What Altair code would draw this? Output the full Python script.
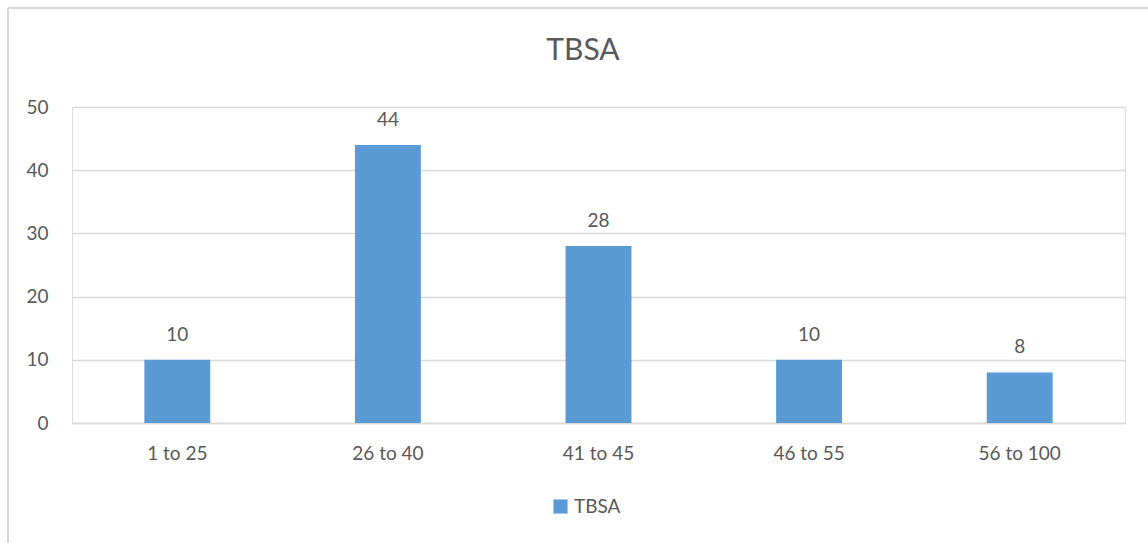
import altair as alt
import pandas as pd

categories = ["1 to 25", "26 to 40", "41 to 45", "46 to 55", "56 to 100"]
values = [10, 44, 28, 10, 8]
series = "TBSA"
title_text = "TBSA"

df = pd.DataFrame({"cat": categories, "val": values, "series": [series] * len(categories)})

FONT = "Lato"
GRAY = "#595959"
GRID = "#d9d9d9"
BLUE = "#5b9bd5"
FS = 19

x_enc = alt.X("cat:N", sort=categories, title=None,
              scale=alt.Scale(paddingInner=0, paddingOuter=0),
              axis=alt.Axis(labelAngle=0, labelFontSize=FS, labelColor=GRAY, labelFont=FONT,
                            domainColor=GRID, domainWidth=1.5, ticks=False, labelPadding=21))
y_enc = alt.Y("val:Q", title=None,
              scale=alt.Scale(domain=[0, 50]),
              axis=alt.Axis(values=[0, 10, 20, 30, 40, 50], labelFontSize=FS, labelColor=GRAY,
                            labelFont=FONT, domain=False, ticks=False, labelPadding=24,
                            gridColor=GRID, gridWidth=1.5))

bars = alt.Chart(df).mark_bar(color=BLUE, width=alt.RelativeBandSize(0.313)).encode(
    x=x_enc, y=y_enc,
    color=alt.Color("series:N", scale=alt.Scale(range=[BLUE]),
                    legend=alt.Legend(title=None, orient="none", legendX=479, legendY=390,
                                      symbolType="square", symbolSize=200, symbolStrokeWidth=0,
                                      labelFontSize=FS, labelColor=GRAY, labelFont=FONT,
                                      labelOffset=4)),
)

labels = alt.Chart(df).mark_text(fontSize=FS, color=GRAY, font=FONT, baseline="alphabetic", dy=-19).encode(
    x=alt.X("cat:N", sort=categories), y="val:Q", text="val:Q"
)

title_df = pd.DataFrame({"t": [title_text]})
title = alt.Chart(title_df).mark_text(fontSize=30, color=GRAY, font=FONT, baseline="middle", align="center").encode(
    x=alt.value(511), y=alt.value(-56), text="t:N"
)

border_top = alt.Chart(df).mark_rule(color=GRID, strokeWidth=2).encode(
    x=alt.value(-64), x2=alt.value(1100), y=alt.value(-99)
)
border_left = alt.Chart(df).mark_rule(color=GRID, strokeWidth=2).encode(
    x=alt.value(-64), y=alt.value(-99), y2=alt.value(500)
)

chart = alt.layer(border_top, border_left, bars, labels, title).properties(
    width=1053, height=316,
    autosize=alt.AutoSizeParams(type="none"),
    padding={"left": 72, "top": 107, "right": 23, "bottom": 120},
).configure_view(stroke=None).configure(background="white")

chart.save("out.html", embed_options={"renderer": "svg", "actions": False})
